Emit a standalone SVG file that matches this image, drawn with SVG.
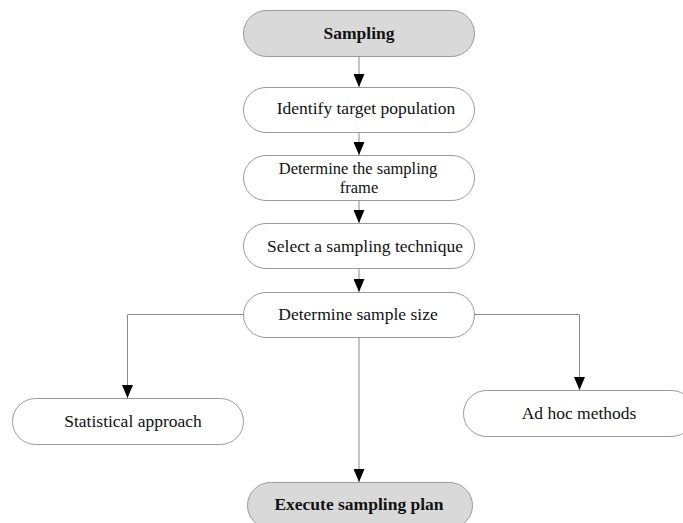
<svg xmlns="http://www.w3.org/2000/svg" width="683" height="523" viewBox="0 0 683 523">
<style>
.n{fill:#fff;stroke:#9a9a9a;stroke-width:1}
.g{fill:#d9d9d9;stroke:#9a9a9a;stroke-width:1}
text{font-family:"Liberation Serif","Times New Roman",serif;font-size:17.5px;fill:#111;text-anchor:middle}
.b{font-weight:bold}
.s{font-size:16.5px}
.c{fill:none;stroke:#8a8a8a;stroke-width:1}
</style>
<defs>
<marker id="a" markerWidth="13" markerHeight="11" refX="13" refY="5.5" orient="auto" markerUnits="userSpaceOnUse" viewBox="0 0 13 11">
<path d="M0,0 L13,5.5 L0,11 Z" fill="#000"/>
</marker>
</defs>
<rect width="683" height="523" fill="#fff"/>
<g id="connectors">
<line class="c" x1="359" y1="56" x2="359" y2="87" marker-end="url(#a)"/>
<line class="c" x1="359" y1="132" x2="359" y2="155" marker-end="url(#a)"/>
<line class="c" x1="359" y1="200" x2="359" y2="223" marker-end="url(#a)"/>
<line class="c" x1="359" y1="268" x2="359" y2="292" marker-end="url(#a)"/>
<polyline class="c" points="243,314.5 127.5,314.5 127.5,398" marker-end="url(#a)"/>
<polyline class="c" points="474,314.5 579.5,314.5 579.5,390" marker-end="url(#a)"/>
<line class="c" x1="359" y1="337" x2="359" y2="482" marker-end="url(#a)"/>
</g>
<g id="sampling"><rect class="g" x="243.5" y="10.5" width="231" height="46" rx="23"/><text class="b" x="359" y="39">Sampling</text></g>
<g id="identify"><rect class="n" x="243.5" y="87.5" width="231" height="45" rx="22.5"/><text x="366" y="114">Identify target population</text></g>
<g id="frame"><rect class="n" x="243.5" y="155.5" width="231" height="45" rx="22.5"/><text class="s" x="358" y="174">Determine the sampling</text><text class="s" x="359" y="193">frame</text></g>
<g id="technique"><rect class="n" x="243.5" y="223.5" width="231" height="45" rx="22.5"/><text x="365" y="252">Select a sampling technique</text></g>
<g id="size"><rect class="n" x="243.5" y="292.5" width="231" height="45" rx="22.5"/><text x="358" y="320">Determine sample size</text></g>
<g id="statistical"><rect class="n" x="12.5" y="398.5" width="231" height="46" rx="23"/><text x="133" y="427">Statistical approach</text></g>
<g id="adhoc"><rect class="n" x="463.5" y="390.5" width="231" height="46" rx="23"/><text x="579" y="419">Ad hoc methods</text></g>
<g id="execute"><rect class="g" x="247.5" y="482.5" width="225" height="46" rx="23"/><text class="b" x="359" y="510">Execute sampling plan</text></g>
</svg>
